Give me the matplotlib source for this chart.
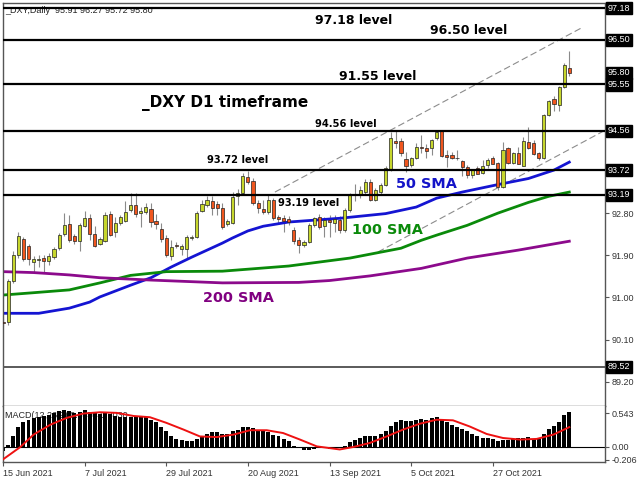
"""
DXY daily candles with levels, SMAs and MACD panel
"""
import matplotlib
matplotlib.use('Agg')
import matplotlib.pyplot as plt
import matplotlib.transforms as mtransforms

# daily candles (bar index 0 = 15 Jun 2021)
opens = [90.48, 90.47, 91.36, 91.90, 92.25, 92.09, 91.76, 91.80, 91.84, 91.77,
         91.86, 92.05, 92.35, 92.56, 92.31, 92.21, 92.52, 92.70, 92.35, 92.14,
         92.21, 92.79, 92.39, 92.59, 92.63, 92.86, 92.97, 92.80, 92.83, 92.88,
         92.63, 92.47, 92.26, 91.88, 92.13, 92.04, 92.04, 92.27, 92.28, 92.84,
         92.97, 93.06, 93.00, 92.90, 92.56, 92.60, 93.16, 93.22, 93.58, 93.49,
         93.01, 92.88, 92.83, 93.08, 92.71, 92.69, 92.68, 92.45, 92.22, 92.12,
         92.19, 92.54, 92.71, 92.52, 92.66, 92.60, 92.66, 92.43, 92.86, 93.19,
         93.20, 93.25, 93.47, 93.09, 93.25, 93.40, 93.74, 94.35, 94.35, 93.95,
         93.83, 93.97, 94.22, 94.20, 94.19, 94.40, 94.56, 94.04, 94.04, 93.98,
         93.92, 93.79, 93.61, 93.76, 93.66, 93.83, 93.97, 93.88, 93.36, 94.19,
         93.88, 94.09, 93.81, 94.32, 94.29, 94.08, 93.97, 94.90, 95.24, 95.11,
         95.49, 95.91]
highs = [90.56, 91.40, 92.00, 92.40, 92.29, 92.15, 91.88, 91.90, 91.90, 91.94,
         92.08, 92.38, 92.81, 92.76, 92.36, 92.58, 92.84, 92.79, 92.52, 92.28,
         92.83, 92.85, 92.72, 92.76, 93.06, 93.22, 93.22, 92.94, 93.02, 93.01,
         92.79, 92.58, 92.33, 92.22, 92.19, 92.15, 92.33, 92.33, 92.84, 93.08,
         93.16, 93.16, 93.05, 93.01, 92.67, 93.26, 93.31, 93.65, 93.70, 93.55,
         93.09, 93.08, 93.19, 93.12, 92.76, 92.76, 92.74, 92.50, 92.28, 92.22,
         92.58, 92.72, 92.78, 92.72, 92.76, 92.77, 92.74, 92.92, 93.22, 93.42,
         93.38, 93.52, 93.52, 93.33, 93.45, 93.80, 94.54, 94.55, 94.40, 94.10,
         94.00, 94.30, 94.46, 94.28, 94.38, 94.56, 94.57, 94.15, 94.10, 94.15,
         93.93, 93.82, 93.75, 93.80, 93.93, 93.97, 94.02, 93.90, 94.33, 94.21,
         94.11, 94.21, 94.42, 94.65, 94.37, 94.11, 94.91, 95.22, 95.30, 95.52,
         96.01, 96.27]
lows = [90.38, 90.42, 91.30, 91.85, 91.77, 91.69, 91.55, 91.65, 91.54, 91.70,
        91.83, 92.01, 92.31, 92.18, 92.15, 91.99, 92.50, 92.22, 92.07, 92.11,
        92.19, 92.31, 92.28, 92.55, 92.61, 92.83, 92.72, 92.51, 92.79, 92.51,
        92.47, 92.19, 91.86, 91.79, 92.06, 91.90, 91.85, 92.22, 92.26, 92.82,
        92.94, 92.76, 92.76, 92.47, 92.53, 92.57, 92.98, 93.19, 93.43, 92.97,
        92.81, 92.79, 92.79, 92.65, 92.58, 92.40, 92.55, 92.15, 91.94, 92.08,
        92.16, 92.50, 92.46, 92.30, 92.28, 92.40, 92.38, 92.40, 92.82, 93.05,
        93.12, 93.20, 93.06, 93.05, 93.20, 93.38, 93.70, 94.20, 94.02, 93.68,
        93.78, 93.95, 94.08, 93.98, 94.05, 94.36, 94.00, 93.79, 93.95, 93.94,
        93.59, 93.56, 93.55, 93.63, 93.64, 93.76, 93.84, 93.30, 93.33, 93.86,
        93.84, 93.84, 93.80, 94.16, 94.04, 93.94, 93.95, 94.87, 94.98, 94.98,
        95.47, 95.72]
closes = [90.45, 91.36, 91.90, 92.31, 91.81, 91.83, 91.81, 91.82, 91.78, 91.89,
          92.04, 92.34, 92.54, 92.22, 92.21, 92.54, 92.69, 92.36, 92.09, 92.24,
          92.77, 92.34, 92.58, 92.72, 92.83, 92.97, 92.78, 92.85, 92.93, 92.61,
          92.56, 92.24, 91.90, 92.07, 92.09, 92.09, 92.28, 92.29, 92.81, 92.99,
          93.08, 92.91, 92.90, 92.51, 92.63, 93.15, 93.24, 93.59, 93.47, 93.01,
          92.90, 92.83, 93.09, 92.69, 92.67, 92.64, 92.62, 92.21, 92.13, 92.19,
          92.54, 92.69, 92.50, 92.66, 92.62, 92.68, 92.43, 92.86, 93.19, 93.21,
          93.30, 93.47, 93.09, 93.29, 93.40, 93.76, 94.40, 94.30, 94.08, 93.81,
          93.97, 94.21, 94.20, 94.12, 94.36, 94.54, 94.02, 93.99, 93.97, 93.97,
          93.78, 93.61, 93.72, 93.64, 93.81, 93.94, 93.86, 93.36, 94.15, 93.88,
          94.09, 93.86, 94.35, 94.19, 94.06, 93.97, 94.90, 95.19, 95.13, 95.49,
          95.97, 95.80]

# moving averages (bar index, price)
sma50_i = [0, 7, 13, 17, 19, 25, 29, 33, 37, 43, 45, 48, 51, 56, 66, 75, 81,
           85, 90, 97, 103, 108, 111]
sma50_v = [90.66, 90.66, 90.77, 90.90, 91.01, 91.26, 91.42, 91.65, 91.86,
           92.16, 92.27, 92.42, 92.52, 92.61, 92.69, 92.79, 92.93, 93.12,
           93.25, 93.41, 93.54, 93.72, 93.89]
sma100_i = [0, 6, 13, 19, 25, 32, 43, 56, 68, 78, 82, 85, 91, 97, 103, 107, 111]
sma100_v = [91.05, 91.10, 91.16, 91.31, 91.47, 91.55, 91.56, 91.67, 91.84,
            92.05, 92.22, 92.33, 92.54, 92.80, 93.03, 93.16, 93.25]
sma200_i = [0, 6, 13, 19, 29, 43, 58, 64, 72, 82, 91, 101, 111]
sma200_v = [91.55, 91.53, 91.48, 91.42, 91.37, 91.31, 91.32, 91.36, 91.46,
            91.62, 91.84, 92.01, 92.20]

# horizontal levels
levels = [97.18, 96.50, 95.55, 94.56, 93.72, 93.19]
boxed = [97.18, 96.50, 95.80, 95.55, 94.56, 93.72, 93.19, 89.52]
low_line = 89.52
price_ticks = [92.80, 91.90, 91.00, 90.10, 89.20]

# channel (bar index, price)
chan_up_i = [53.3, 113.6]
chan_up_v = [93.25, 96.77]
chan_lo_i = [73.5, 118.0]
chan_lo_v = [91.97, 94.57]

# MACD histogram and signal
macd = [-0.06, 0.04, 0.17, 0.32, 0.40, 0.44, 0.47, 0.49, 0.50, 0.52,
        0.55, 0.58, 0.59, 0.58, 0.55, 0.57, 0.60, 0.57, 0.55, 0.53,
        0.56, 0.53, 0.50, 0.49, 0.49, 0.49, 0.48, 0.48, 0.48, 0.44,
        0.40, 0.33, 0.25, 0.18, 0.13, 0.11, 0.09, 0.09, 0.13, 0.17,
        0.21, 0.24, 0.24, 0.21, 0.21, 0.25, 0.28, 0.32, 0.33, 0.31,
        0.27, 0.25, 0.24, 0.20, 0.17, 0.13, 0.09, 0.02, -0.02, -0.05,
        -0.05, -0.03, -0.02, -0.02, -0.03, -0.02, 0.00, 0.02, 0.08, 0.12,
        0.145, 0.17, 0.17, 0.17, 0.21, 0.25, 0.34, 0.41, 0.43, 0.42,
        0.42, 0.44, 0.45, 0.44, 0.47, 0.48, 0.44, 0.40, 0.36, 0.33,
        0.29, 0.25, 0.21, 0.17, 0.145, 0.145, 0.13, 0.09, 0.11, 0.12,
        0.13, 0.145, 0.15, 0.16, 0.13, 0.145, 0.21, 0.29, 0.34, 0.41,
        0.52, 0.56]
signal_i = [0, 3.4, 6, 9.3, 12.5, 15.8, 19, 22.3, 25.6, 28.8, 32, 35.4, 38.6,
            41.9, 45.2, 48.4, 51.7, 54.9, 58.2, 61.5, 66, 68.7, 71.9, 75.2,
            78.4, 81.7, 85, 88.2, 91.5, 94.8, 98, 101.3, 104.6, 107.9, 111]
signal_v = [-0.20, 0.0, 0.20, 0.36, 0.47, 0.54, 0.56, 0.55, 0.50, 0.48, 0.39,
            0.28, 0.17, 0.16, 0.20, 0.27, 0.27, 0.225, 0.12, 0.01, -0.04, 0.0,
            0.065, 0.17, 0.28, 0.375, 0.44, 0.43, 0.33, 0.21, 0.145, 0.12,
            0.13, 0.20, 0.32]
macd_ticks = [0.543, 0.0, -0.206]
macd_labels = ['0.543', '0.00', '-0.206']

date_pos = [0, 16, 32, 48, 64, 80, 96]
date_labels = ['15 Jun 2021', '7 Jul 2021', '29 Jul 2021', '20 Aug 2021',
               '13 Sep 2021', '5 Oct 2021', '27 Oct 2021']

UP = '#c6d62c'
DOWN = '#f0561e'
GRID = '#555555'


def draw_candles(ax):
    """
    wicks + bodies
    """
    idx = list(range(len(closes)))
    ax.vlines(idx, lows, highs, color='#8a8a8a', lw=0.8, zorder=2)
    bottoms = [min(o, c) for o, c in zip(opens, closes)]
    heights = [abs(c - o) for o, c in zip(opens, closes)]
    colors = [UP if c >= o else DOWN for o, c in zip(opens, closes)]
    ax.bar(idx, heights, bottom=bottoms, width=0.62, color=colors,
           edgecolor='#222222', linewidth=0.5, zorder=3)


def main():
    plt.rcParams['font.family'] = ['Liberation Sans', 'DejaVu Sans']

    fig = plt.figure(figsize=(6.4, 4.8), dpi=100)
    ax = fig.add_axes([3 / 640, 74.5 / 480, 602 / 640, 402.5 / 480])
    ax2 = fig.add_axes([3 / 640, 17.7 / 480, 602 / 640, 56.8 / 480], sharex=ax)

    draw_candles(ax)

    ax.plot(sma50_i, sma50_v, color='#1414d2', lw=2, zorder=2.5)
    ax.plot(sma100_i, sma100_v, color='#0a8a0a', lw=2, zorder=2.5)
    ax.plot(sma200_i, sma200_v, color='#8c0a8c', lw=2, zorder=2.5)

    for lvl in levels:
        ax.axhline(lvl, color='black', lw=1.6, zorder=4)
    ax.axhline(low_line, color='#5a5a5a', lw=1.4, zorder=4)

    ax.plot(chan_up_i, chan_up_v, color='#8c8c8c', lw=0.8, dashes=(6, 3), zorder=2)
    ax.plot(chan_lo_i, chan_lo_v, color='#8c8c8c', lw=0.8, dashes=(6, 3), zorder=2)

    ax.set_xlim(0.05, 118.0)
    ax.set_ylim(88.69, 97.29)

    # right price scale
    ax.yaxis.tick_right()
    ax.set_yticks(price_ticks)
    ax.set_yticklabels(['%.2f' % v for v in price_ticks])
    ax.tick_params(axis='y', direction='out', length=3, width=0.8, colors=GRID,
                   labelsize=6.5, labelcolor='#333333', pad=1.5)
    ax.tick_params(axis='x', bottom=False, labelbottom=False)
    trans = mtransforms.blended_transform_factory(ax.transAxes, ax.transData)
    for v in boxed:
        ax.text(1.005, v, '%.2f' % v, transform=trans, color='white',
                fontsize=6.5, va='center', ha='left', clip_on=False, zorder=6,
                bbox=dict(boxstyle='square,pad=0.18', fc='black', ec='black'))

    # annotations
    bold = dict(family=['DejaVu Sans'], weight='bold', zorder=5)
    ax.text(0.0033, 0.9826, '_DXY,Daily  95.91 96.27 95.72 95.80',
            transform=ax.transAxes, fontsize=6.5, color='#222222',
            va='center', ha='left', zorder=1)
    ax.text(61.2, 96.92, '97.18 level', fontsize=9, va='center', **bold)
    ax.text(83.7, 96.70, '96.50 level', fontsize=9, va='center', **bold)
    ax.text(81.1, 95.72, '91.55 level', fontsize=9, va='center', ha='right', **bold)
    ax.text(59.8, 95.15, '_DXY D1 timeframe', fontsize=11, va='center',
            ha='right', **bold)
    ax.text(61.2, 94.71, '94.56 level', fontsize=7.1, va='center', **bold)
    ax.text(39.95, 93.93, '93.72 level', fontsize=7.1, va='center', **bold)
    ax.text(53.9, 93.02, '93.19 level', fontsize=7.1, va='center', **bold)
    ax.text(77.0, 93.43, '50 SMA', fontsize=10.4, va='center',
            color='#1414c8', **bold)
    ax.text(68.4, 92.45, '100 SMA', fontsize=10.4, va='center',
            color='#0a8a0a', **bold)
    ax.text(39.2, 90.99, '200 SMA', fontsize=10.4, va='center',
            color='#800080', **bold)

    # MACD panel
    ax2.text(0.004, 0.9, 'MACD(12,26,9) 0.5404 0.3030', transform=ax2.transAxes,
             fontsize=6.5, color='#222222', va='top', ha='left', zorder=1)
    ax2.bar(range(len(macd)), macd, width=0.78, color='black', zorder=2)
    ax2.plot(signal_i, signal_v, color='#ee1111', lw=1.4, zorder=3)
    ax2.axhline(0, color='black', lw=0.8, zorder=2)
    ax2.set_ylim(-0.247, 0.669)
    ax2.yaxis.tick_right()
    ax2.set_yticks(macd_ticks)
    ax2.set_yticklabels(macd_labels)
    ax2.tick_params(axis='y', direction='out', length=3, width=0.8, colors=GRID,
                    labelsize=6.5, labelcolor='#333333', pad=1.5)
    ax2.set_xticks(date_pos)
    ax2.set_xticklabels(date_labels, ha='left')
    ax2.tick_params(axis='x', direction='out', length=3, width=0.8, colors=GRID,
                    labelsize=6.5, labelcolor='#333333', pad=1.5)
    ax2.spines['top'].set_visible(False)

    for a in (ax, ax2):
        for sp in a.spines.values():
            sp.set_color(GRID)
            sp.set_linewidth(1)

    fig.savefig('out.png', dpi=100)
    plt.close('all')


if __name__ == '__main__':
    main()
